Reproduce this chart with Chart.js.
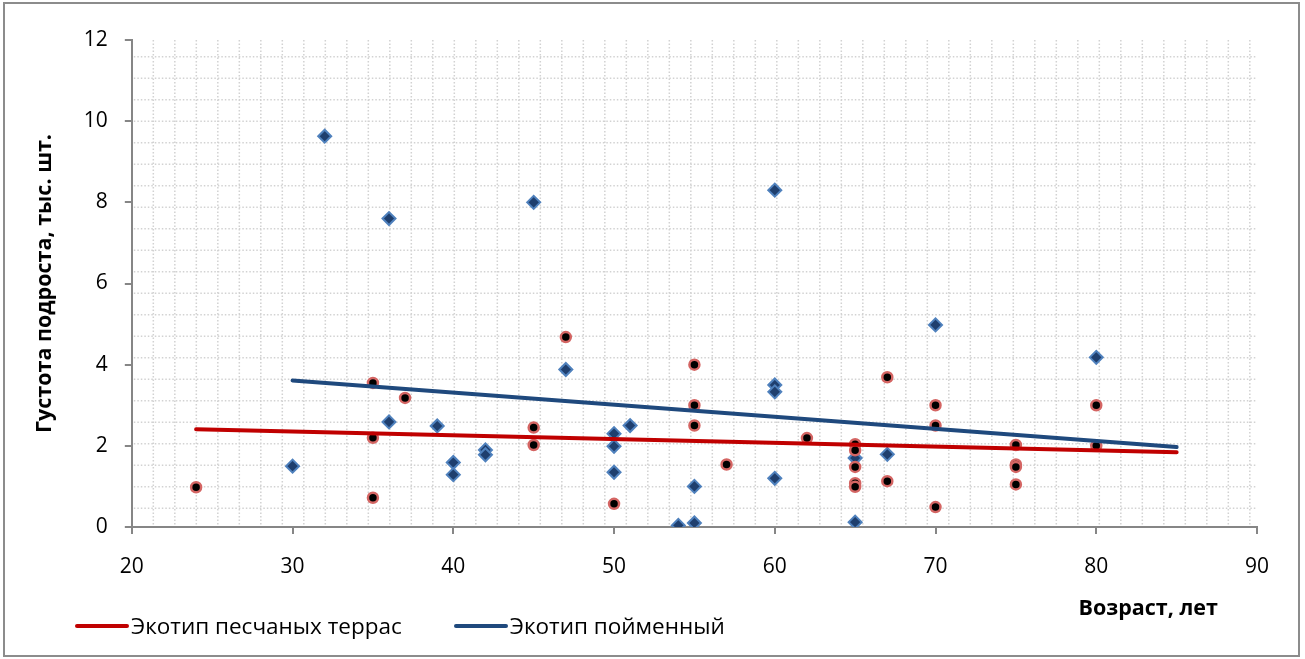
<!DOCTYPE html>
<html lang="ru">
<head>
  <meta charset="UTF-8">
  <title>Густота подроста по возрасту</title>
  <style>
    body {
      margin: 0;
      background: #fff;
      font-family: 'Open Sans', Arial, sans-serif;
    }

    .wrap {
      position: relative;
      width: 1305px;
      height: 659px;
    }

    /* outer frame of the chart */
    .frame {
      position: absolute;
      left: 3px;
      top: 2px;
      width: 1293px;
      height: 651px;
      border: 2px solid #8c8c8c;
      pointer-events: none;
    }

    #chart-box {
      position: absolute;
      left: 0;
      top: 0;
      width: 1305px;
      height: 659px;
    }

    /* legend built from the datasets */
    #legend {
      position: absolute;
      left: 75px;
      top: 610px;
      display: flex;
      gap: 52px;
      font-size: 22.5px;
      color: #000;
    }

    #legend .item {
      display: flex;
      align-items: center;
    }

    #legend .line {
      width: 54px;
      height: 4px;
      border-radius: 2px;
      margin-right: 2px;
    }
  </style>
</head>
<body>
  <div class="wrap">
    <div id="chart-box">
      <canvas id="densityChart"></canvas>
    </div>
    <div class="frame"></div>
    <div id="legend"></div>
  </div>

  <script src="https://cdn.jsdelivr.net/npm/chart.js"></script>
  <script>
    // Экотип песчаных террас
    const sandAge = [24, 35, 35, 35, 37, 45, 45, 47, 50, 55, 55, 55, 57, 62, 65, 65, 65, 65, 65, 67, 67, 70, 70, 70, 75, 75, 75, 75, 80, 80];
    const sandDensity = [0.98, 3.55, 2.2, 0.72, 3.18, 2.45, 2.02, 4.68, 0.57, 4.0, 3.0, 2.5, 1.54, 2.19, 2.04, 1.89, 1.48, 1.08, 0.99, 3.69, 1.13, 3.0, 2.5, 0.49, 2.02, 1.54, 1.48, 1.05, 3.0, 2.0];

    // Экотип пойменный
    const floodAge = [30, 32, 36, 36, 39, 40, 40, 42, 42, 45, 47, 50, 50, 50, 51, 54, 55, 55, 60, 60, 60, 60, 65, 65, 67, 70, 80];
    const floodDensity = [1.5, 9.63, 7.6, 2.59, 2.49, 1.59, 1.29, 1.9, 1.78, 8.0, 3.88, 2.3, 1.99, 1.35, 2.5, 0.04, 1.0, 0.1, 8.3, 3.5, 3.33, 1.2, 1.7, 0.12, 1.79, 4.98, 4.18];

    // linear trend lines, ends
    const sandTrendAge = [24, 85];
    const sandTrendDensity = [2.41, 1.84];
    const floodTrendAge = [30, 85];
    const floodTrendDensity = [3.61, 1.97];

    // axis ticks
    const xTicks = [20, 30, 40, 50, 60, 70, 80, 90];
    const yTicks = [0, 2, 4, 6, 8, 10, 12];

    const toPoints = (xs, ys) => xs.map((x, i) => ({ x: x, y: ys[i] }));

    const axisGray = '#868686';
    const fontFamily = "'Open Sans', Arial, sans-serif";

    // dotted pattern behind the plot (Excel "dotted grid" fill)
    const dottedGrid = {
      id: 'dottedGrid',
      beforeDatasetsDraw(chart) {
        const { ctx, chartArea: a } = chart;
        const step = 21.5;
        ctx.save();
        ctx.strokeStyle = '#d2d2d2';
        ctx.lineWidth = 1.5;
        ctx.setLineDash([1.5, 2]);
        ctx.beginPath();
        for (let x = a.left + step; x < a.right; x += step) {
          ctx.moveTo(x, a.top);
          ctx.lineTo(x, a.bottom - 2);
        }
        for (let y = a.top + 16.7; y < a.bottom - 2; y += step) {
          ctx.moveTo(a.left + 2, y);
          ctx.lineTo(a.right, y);
        }
        ctx.stroke();
        ctx.restore();
      }
    };

    // html legend for the trend lines only
    const htmlLegend = {
      id: 'htmlLegend',
      afterUpdate(chart) {
        const box = document.getElementById('legend');
        box.innerHTML = '';
        chart.data.datasets.forEach(ds => {
          if (ds.type !== 'line') return;
          const item = document.createElement('div');
          item.className = 'item';
          const line = document.createElement('span');
          line.className = 'line';
          line.style.background = ds.borderColor;
          const text = document.createElement('span');
          text.textContent = ds.label;
          item.appendChild(line);
          item.appendChild(text);
          box.appendChild(item);
        });
      }
    };

    const ctx = document.getElementById('densityChart').getContext('2d');

    new Chart(ctx, {
      type: 'scatter',
      data: {
        datasets: [
          {
            type: 'line',
            label: 'Экотип песчаных террас',
            data: toPoints(sandTrendAge, sandTrendDensity),
            borderColor: '#c00000',
            borderWidth: 4,
            pointRadius: 0,
            borderCapStyle: 'round'
          },
          {
            type: 'line',
            label: 'Экотип пойменный',
            data: toPoints(floodTrendAge, floodTrendDensity),
            borderColor: '#1f497d',
            borderWidth: 4,
            pointRadius: 0,
            borderCapStyle: 'round'
          },
          {
            label: 'песчаные террасы',
            data: toPoints(sandAge, sandDensity),
            pointStyle: 'circle',
            pointRadius: 5,
            pointBorderWidth: 2.5,
            pointBackgroundColor: '#000',
            pointBorderColor: '#d46563'
          },
          {
            label: 'пойменный',
            data: toPoints(floodAge, floodDensity),
            pointStyle: 'rectRot',
            pointRadius: 6.5,
            pointBorderWidth: 2,
            pointBackgroundColor: '#1f3f6e',
            pointBorderColor: '#4f81bd'
          }
        ]
      },
      options: {
        responsive: true,
        maintainAspectRatio: false,
        animation: false,
        layout: {
          padding: { left: 22, right: 48, top: 40, bottom: 37 }
        },
        plugins: {
          legend: { display: false },
          tooltip: { enabled: false }
        },
        scales: {
          x: {
            type: 'linear',
            min: 20,
            max: 90,
            afterBuildTicks: axis => { axis.ticks = xTicks.map(v => ({ value: v })); },
            border: { color: axisGray, width: 2 },
            grid: {
              drawOnChartArea: false,
              color: axisGray,
              lineWidth: 2,
              tickLength: 7
            },
            ticks: {
              color: '#000',
              padding: 20,
              font: { family: fontFamily, size: 21 }
            },
            title: {
              display: true,
              align: 'end',
              text: 'Возраст, лет' + '\u00a0'.repeat(7),
              color: '#000',
              padding: { top: -3, bottom: 0 },
              font: { family: fontFamily, size: 21.5, weight: 'bold' }
            }
          },
          y: {
            type: 'linear',
            min: 0,
            max: 12,
            afterBuildTicks: axis => { axis.ticks = yTicks.map(v => ({ value: v })); },
            border: { color: axisGray, width: 2 },
            grid: {
              drawOnChartArea: false,
              color: axisGray,
              lineWidth: 2,
              tickLength: 7
            },
            ticks: {
              color: '#000',
              padding: 17,
              font: { family: fontFamily, size: 21 }
            },
            title: {
              display: true,
              text: 'Густота подроста, тыс. шт.',
              color: '#000',
              padding: { top: 10, bottom: 9 },
              font: { family: fontFamily, size: 21.5, weight: 'bold' }
            }
          }
        }
      },
      plugins: [dottedGrid, htmlLegend]
    });
  </script>
</body>
</html>
